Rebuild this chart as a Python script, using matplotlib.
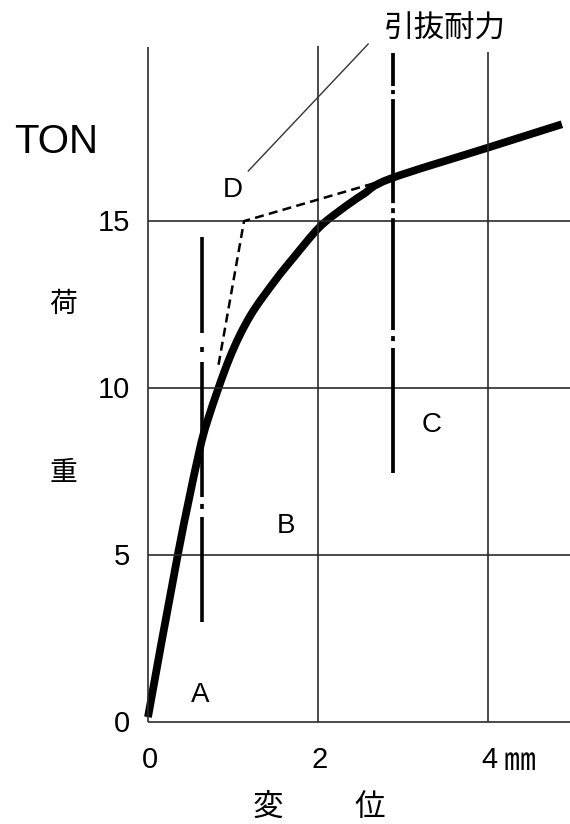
import matplotlib
matplotlib.use('Agg')
import matplotlib.pyplot as plt
from matplotlib.path import Path
from matplotlib.patches import PathPatch

# fonts: latin first, japanese as fallback
plt.rcParams['font.family'] = ['Liberation Sans', 'Noto Sans CJK JP']
plt.rcParams['lines.scale_dashes'] = False

# load - displacement curve (mm, ton)
disp = [0.0, 0.35, 0.59, 0.71, 0.96, 1.20, 1.49, 1.71, 2.01, 2.26, 2.53, 2.85, 4.0, 4.87]
load = [0.15, 5.0, 7.95, 9.1, 10.9, 12.15, 13.2, 13.9, 14.8, 15.32, 15.8, 16.27, 17.2, 17.9]

# dashed tangent construction (point D)
d_disp = [0.83, 1.13, 2.75]
d_load = [10.7, 15.0, 16.2]

# dash-dot marker lines
a_disp = 0.64
a_load = [14.52, 2.99]
c_disp = 2.88
c_load = [20.03, 7.46]

x_ticks = [0, 2, 4]
x_labels = ['0', '2', '4']
y_ticks = [0, 5, 10, 15]
y_labels = ['0', '5', '10', '15']
grid_top = [20.2, 20.25, 20.05]


def smooth_path(xs, ys):
    # catmull-rom through the read points, drawn as cubic bezier segments
    pts = list(zip(xs, ys))
    verts = [pts[0]]
    codes = [Path.MOVETO]
    n = len(pts)
    for i in range(n - 1):
        p0 = pts[i - 1] if i > 0 else pts[i]
        p1 = pts[i]
        p2 = pts[i + 1]
        p3 = pts[i + 2] if i + 2 < n else pts[i + 1]
        c1 = (p1[0] + (p2[0] - p0[0]) / 6, p1[1] + (p2[1] - p0[1]) / 6)
        c2 = (p2[0] - (p3[0] - p1[0]) / 6, p2[1] - (p3[1] - p1[1]) / 6)
        verts += [c1, c2, p2]
        codes += [Path.CURVE4] * 3
    return Path(verts, codes)


fig = plt.figure(figsize=(5.7, 8.24), dpi=100)
ax = fig.add_axes([0, 0, 1, 1])
ax.set_xlim(-1.741, 4.965)
ax.set_ylim(-3.05, 21.62)
ax.axis('off')

grid_col = '#2b2b2b'
ax.vlines(x_ticks, 0, grid_top, color=grid_col, lw=1.2)
ax.hlines(y_ticks, 0, 4.965, color=grid_col, lw=1.2)

# main curve
ax.add_patch(PathPatch(smooth_path(disp, load), fill=False, edgecolor='black', lw=5.6,
                       capstyle='butt', joinstyle='round'))

# dashed construction line
ax.plot(d_disp, d_load, color='black', lw=1.8, linestyle=(0, (6.5, 3.8)))

# dash-dot vertical lines
ax.plot([a_disp, a_disp], a_load, color='black', lw=2.6,
        linestyle=(0, (69.1, 10.1, 3.6, 7.2, 97.2, 5.0, 3.6, 5.8, 75.6, 100)),
        dash_capstyle='butt')
ax.plot([c_disp, c_disp], c_load, color='black', lw=2.7,
        linestyle=(0, (23.8, 2.9, 2.9, 3.6, 74.9, 3.6, 3.6, 3.6, 80.6, 4.3, 3.6, 5.0, 90, 100)),
        dash_capstyle='butt')

# leader line to the label
ax.plot([1.18, 2.59], [16.5, 20.3], color='#333333', lw=1.0)
ax.text(3.49, 20.72, '引抜耐力', fontsize=22, ha='center', va='center')

# tick labels
for yt, lab in zip(y_ticks, y_labels):
    ax.text(-0.21, yt - 0.31, lab, fontsize=21, ha='right', va='baseline')
for xt, lab in zip(x_ticks, x_labels):
    ax.text(xt + 0.02, -1.38, lab, fontsize=21, ha='center', va='baseline')
ax.text(4.18, -1.42, '㎜', fontsize=23, ha='left', va='baseline', family='Noto Sans CJK JP')

# axis titles
ax.text(-1.08, 17.04, 'TON', fontsize=29, ha='center', va='baseline')
ax.text(-1.0, 12.48, '荷', fontsize=20, ha='center', va='center')
ax.text(-1.0, 7.43, '重', fontsize=20, ha='center', va='center')
ax.text(1.41, -2.57, '変', fontsize=22, ha='center', va='center')
ax.text(2.61, -2.57, '位', fontsize=22, ha='center', va='center')

# region letters
ax.text(1.0, 15.72, 'D', fontsize=20, ha='center', va='baseline')
ax.text(0.62, 0.6, 'A', fontsize=20, ha='center', va='baseline')
ax.text(1.62, 5.66, 'B', fontsize=20, ha='center', va='baseline')
ax.text(3.34, 8.68, 'C', fontsize=20, ha='center', va='baseline')

fig.savefig('out.png', dpi=100)
